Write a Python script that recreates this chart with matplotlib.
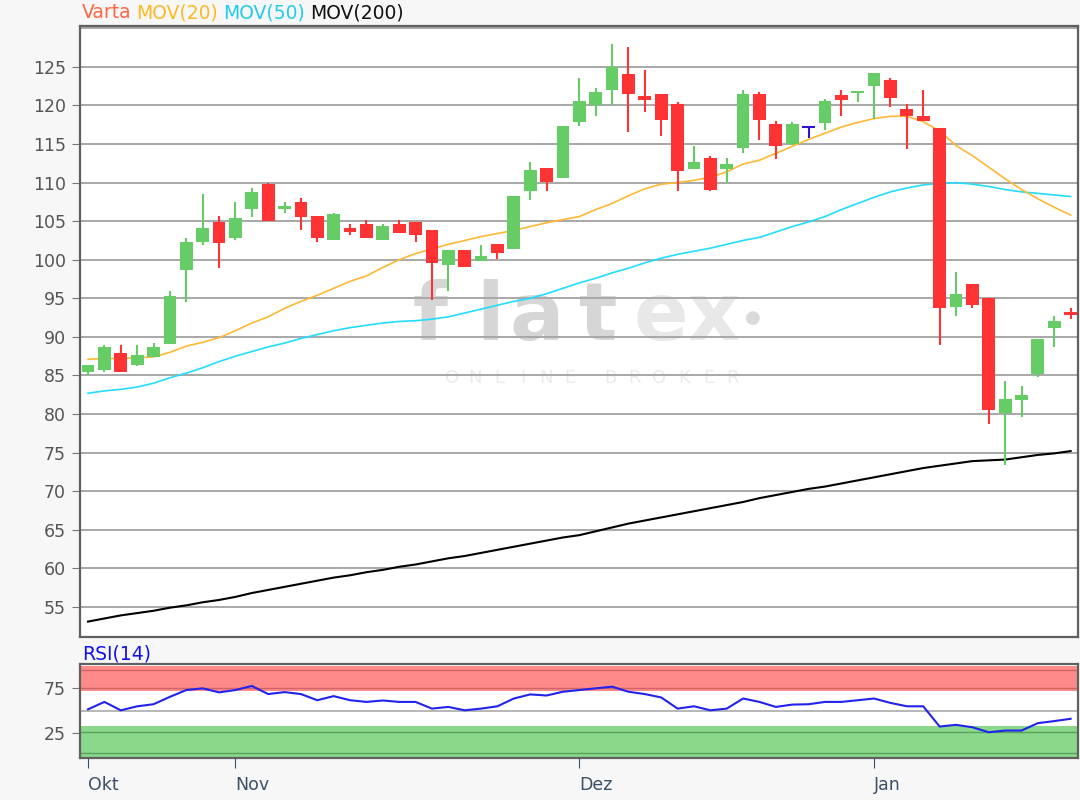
import matplotlib
matplotlib.use("Agg")
import matplotlib.pyplot as plt
import numpy as np

plt.rcParams["font.family"] = ["DejaVu Sans"]

# ── data ──────────────────────────────────────────────────────
opens = [85.5, 85.65, 87.95, 86.3, 87.4, 89.1, 98.7, 102.35, 104.95, 102.85,
         106.55, 109.85, 106.55, 107.5, 105.65, 102.6, 104.1, 104.65, 102.6, 104.65,
         104.9, 103.9, 99.3, 101.25, 99.8, 102.1, 101.35, 108.85, 111.85, 110.6,
         117.8, 120.1, 122.0, 124.05, 121.25, 121.45, 120.2, 111.7, 113.15, 111.7,
         114.5, 121.45, 117.6, 114.95, 117.2, 117.7, 121.35, 121.6, 122.55, 123.3,
         119.6, 118.6, 117.05, 93.9, 96.85, 95.1, 80.15, 81.8, 85.2, 91.1, 93.25]
highs = [86.4, 89.0, 89.0, 89.0, 89.25, 96.0, 102.8, 108.55, 105.65, 107.5,
         109.3, 110.0, 107.5, 108.05, 105.65, 106.0, 104.65, 105.1, 104.65, 105.1,
         104.9, 103.9, 101.25, 101.25, 101.9, 102.1, 108.25, 112.65, 111.85, 117.3,
         123.55, 122.2, 128.0, 127.6, 124.55, 121.45, 120.4, 114.7, 113.4, 113.15,
         122.0, 121.7, 118.0, 117.8, 117.2, 120.9, 122.0, 121.9, 124.25, 123.55,
         120.2, 122.0, 117.05, 98.45, 96.85, 95.1, 84.25, 83.7, 89.7, 92.75, 93.8]
lows = [85.0, 85.4, 85.5, 86.2, 87.4, 89.1, 94.55, 101.85, 98.95, 102.6,
        105.55, 105.0, 106.0, 103.9, 102.35, 102.6, 103.15, 102.85, 102.6, 103.45,
        102.35, 94.8, 95.95, 99.1, 99.8, 100.05, 101.35, 107.8, 108.85, 110.6,
        117.4, 118.65, 120.1, 116.6, 119.2, 116.0, 108.85, 111.7, 108.85, 110.0,
        113.8, 115.55, 113.0, 114.9, 115.8, 116.85, 118.65, 120.5, 118.25, 119.75,
        114.3, 117.95, 88.95, 92.65, 93.7, 78.65, 73.45, 79.65, 84.8, 88.65, 92.35]
closes = [86.35, 88.7, 85.5, 87.65, 88.7, 95.25, 102.25, 104.1, 102.15, 105.4,
          108.8, 105.0, 106.95, 105.55, 102.85, 105.95, 103.65, 102.85, 104.35, 103.45,
          103.15, 99.55, 101.25, 99.1, 100.45, 100.9, 108.25, 111.65, 110.05, 117.3,
          120.6, 121.7, 125.0, 121.55, 120.75, 118.15, 111.45, 112.65, 109.1, 112.35,
          121.45, 118.1, 114.8, 117.6, 117.2, 120.6, 120.75, 121.9, 124.25, 120.95,
          118.65, 117.95, 93.7, 95.55, 94.15, 80.5, 81.95, 82.45, 89.7, 92.0, 92.85]

mov20 = [87.1, 87.2, 87.2, 87.3, 87.4, 88.0, 88.8, 89.3, 89.9, 90.8,
         91.8, 92.6, 93.7, 94.6, 95.4, 96.3, 97.2, 97.9, 99.0, 100.0,
         100.8, 101.4, 102.0, 102.5, 103.0, 103.4, 103.8, 104.3, 104.8, 105.2,
         105.6, 106.5, 107.3, 108.3, 109.2, 109.8, 110.0, 110.3, 110.7, 111.4,
         112.4, 112.9, 113.8, 114.7, 115.6, 116.4, 117.2, 117.8, 118.3, 118.6,
         118.6, 117.9, 116.7, 114.8, 113.5, 112.0, 110.5, 109.1, 107.9, 106.8, 105.8]
mov50 = [82.7, 83.0, 83.2, 83.5, 84.0, 84.7, 85.3, 86.0, 86.8, 87.5,
         88.1, 88.7, 89.2, 89.8, 90.3, 90.8, 91.2, 91.5, 91.8, 92.0,
         92.1, 92.3, 92.6, 93.1, 93.6, 94.1, 94.6, 95.0, 95.6, 96.3,
         97.0, 97.6, 98.3, 98.9, 99.6, 100.2, 100.7, 101.1, 101.5, 102.0,
         102.5, 102.9, 103.6, 104.3, 104.9, 105.6, 106.5, 107.3, 108.1, 108.8,
         109.3, 109.7, 109.9, 110.0, 109.8, 109.5, 109.1, 108.8, 108.6, 108.4, 108.2]
mov200 = [53.1, 53.5, 53.9, 54.2, 54.5, 54.9, 55.2, 55.6, 55.9, 56.3,
          56.8, 57.2, 57.6, 58.0, 58.4, 58.8, 59.1, 59.5, 59.8, 60.2,
          60.5, 60.9, 61.3, 61.6, 62.0, 62.4, 62.8, 63.2, 63.6, 64.0,
          64.3, 64.8, 65.3, 65.8, 66.2, 66.6, 67.0, 67.4, 67.8, 68.2,
          68.6, 69.1, 69.5, 69.9, 70.3, 70.6, 71.0, 71.4, 71.8, 72.2,
          72.6, 73.0, 73.3, 73.6, 73.9, 74.0, 74.1, 74.4, 74.7, 74.9, 75.2]
rsi = [51.5, 59.8, 50.4, 54.9, 57.2, 65.5, 73.1, 75.0, 70.5, 73.1,
       77.7, 68.6, 70.8, 68.6, 61.7, 66.3, 61.7, 59.8, 61.4, 59.8,
       59.8, 52.3, 54.2, 50.4, 52.3, 54.9, 63.6, 68.2, 67.0, 71.2,
       73.1, 75.0, 76.9, 71.2, 68.6, 64.8, 52.3, 54.9, 50.4, 52.3,
       63.6, 59.8, 54.2, 56.8, 57.2, 59.8, 59.8, 61.7, 63.6, 58.7,
       54.9, 54.9, 32.2, 34.1, 31.4, 25.8, 27.7, 27.7, 36.0, 38.3, 40.9]

month_labels = ["Okt", "Nov", "Dez", "Jan"]
month_starts = [0, 9, 30, 48]   # candle index of first trading day shown

price_ticks = list(range(55, 130, 5))
rsi_ticks = [25, 75]

GREEN, RED, DOJI = "#66cc66", "#ff3333", "#3311cc"

# ── figure ────────────────────────────────────────────────────
W, H = 1080, 800
AX_L, AX_R, AX_T, AX_B = 80, 1078, 26, 637
fig = plt.figure(figsize=(W / 100, H / 100), dpi=100, facecolor="#f7f7f7")
ax = fig.add_axes([AX_L / W, 1 - AX_B / H, (AX_R - AX_L) / W, (AX_B - AX_T) / H])
rax = fig.add_axes([AX_L / W, 1 - 757.5 / H, (AX_R - AX_L) / W, 93.5 / H], sharex=ax)


def px2ax(px, py):
    return (px - AX_L) / (AX_R - AX_L), (AX_B - py) / (AX_B - AX_T)


# watermark (pixel positions of the logo letters)
for ch, px, col in [("f", 430, "#d6d6d6"), ("l", 490, "#d6d6d6"),
                    ("a", 537, "#d6d6d6"), ("t", 598, "#d6d6d6"),
                    ("e", 661, "#e8e8e8"), ("x", 714, "#e8e8e8")]:
    ax.text(*px2ax(px, 340), ch, transform=ax.transAxes, fontsize=58,
            fontweight="bold", color=col, ha="center", va="baseline", zorder=0)
ax.text(*px2ax(753, 318), "\u25cf", transform=ax.transAxes, fontsize=13,
        color="#dadada", ha="center", va="center", zorder=0)
for i, ch in enumerate("ONLINE"):
    ax.text(*px2ax(452 + 23.5 * i, 378), ch, transform=ax.transAxes, fontsize=13,
            color="#ebebeb", ha="center", va="center", zorder=0)
for i, ch in enumerate("BROKER"):
    ax.text(*px2ax(610 + 24.6 * i, 378), ch, transform=ax.transAxes, fontsize=13,
            color="#ebebeb", ha="center", va="center", zorder=0)

for v in price_ticks + [130]:
    ax.axhline(v, color="#a8a8a8", lw=1.4, zorder=1)

x = np.arange(len(opens))
o, h, l, c = map(np.asarray, (opens, highs, lows, closes))
cols = np.where(c > o, GREEN, np.where(c < o, RED, DOJI))

ax.plot(x, mov200, color="black", lw=1.5, zorder=2)
ax.plot(x, mov50, color="#22ddff", lw=1.2, zorder=2)
ax.plot(x, mov20, color="#ffb833", lw=1.2, zorder=2)

ax.vlines(x, l, h, colors=cols, lw=1.5, zorder=3)
ax.bar(x, np.abs(c - o), bottom=np.minimum(o, c), width=0.78, color=cols, zorder=4)
doji = c == o
ax.hlines(o[doji], x[doji] - 0.39, x[doji] + 0.39, colors=DOJI, lw=1.5, zorder=4)

ax.set_xlim(-0.49, 60.45)
ax.set_ylim(51.1, 130.3)
ax.set_yticks(price_ticks)
ax.tick_params(axis="y", length=6, color="#777777", labelcolor="#555555",
               labelsize=12.5, pad=4)
ax.tick_params(axis="x", bottom=False, labelbottom=False)
ax.set_facecolor("white")
for s in ax.spines.values():
    s.set_color("#606060")
    s.set_linewidth(1.6)

# ── RSI panel ─────────────────────────────────────────────────
rax.set_facecolor("white")
rax.axhspan(72, 100, color="#ff8a8a", lw=0, zorder=0)
rax.axhspan(-3, 33, color="#8ad88a", lw=0, zorder=0)
for v in (96, 75):
    rax.axhline(v, color="#cc6666", lw=1, zorder=1)
for v in (26, 2):
    rax.axhline(v, color="#5a9f5a", lw=1, zorder=1)
rax.axhline(50, color="#aaaaaa", lw=1.2, zorder=1)
rax.plot(x, rsi, color="#2222ee", lw=1.5, zorder=2)
rax.set_ylim(-2.5, 102.3)
rax.set_yticks(rsi_ticks)
rax.tick_params(axis="y", length=6, color="#777777", labelcolor="#555555",
                labelsize=12.5, pad=4)
rax.set_xticks(month_starts)
rax.set_xticklabels(month_labels)
rax.tick_params(axis="x", length=7, color="#3b4f66", labelcolor="#3b4f66",
                labelsize=12.5, pad=6)
for lab in rax.get_xticklabels():
    lab.set_ha("left")
for s in rax.spines.values():
    s.set_color("#606060")
    s.set_linewidth(1.6)

# ── legend texts ──────────────────────────────────────────────
fig.canvas.draw()
renderer = fig.canvas.get_renderer()
xpos = 82
for txt, col in [("Varta", "#ff6644"), ("MOV(20)", "#ffb822"),
                 ("MOV(50)", "#22ccee"), ("MOV(200)", "#111111")]:
    t = fig.text(xpos / W, 1 - 13 / H, txt, color=col, fontsize=13.5,
                 ha="left", va="center")
    xpos = t.get_window_extent(renderer).x1 + 5

fig.text(82 / W, 1 - 654 / H, "RSI(14)", color="#1111ee", fontsize=13.5,
         ha="left", va="center")

fig.savefig("out.png", dpi=100, facecolor=fig.get_facecolor())
